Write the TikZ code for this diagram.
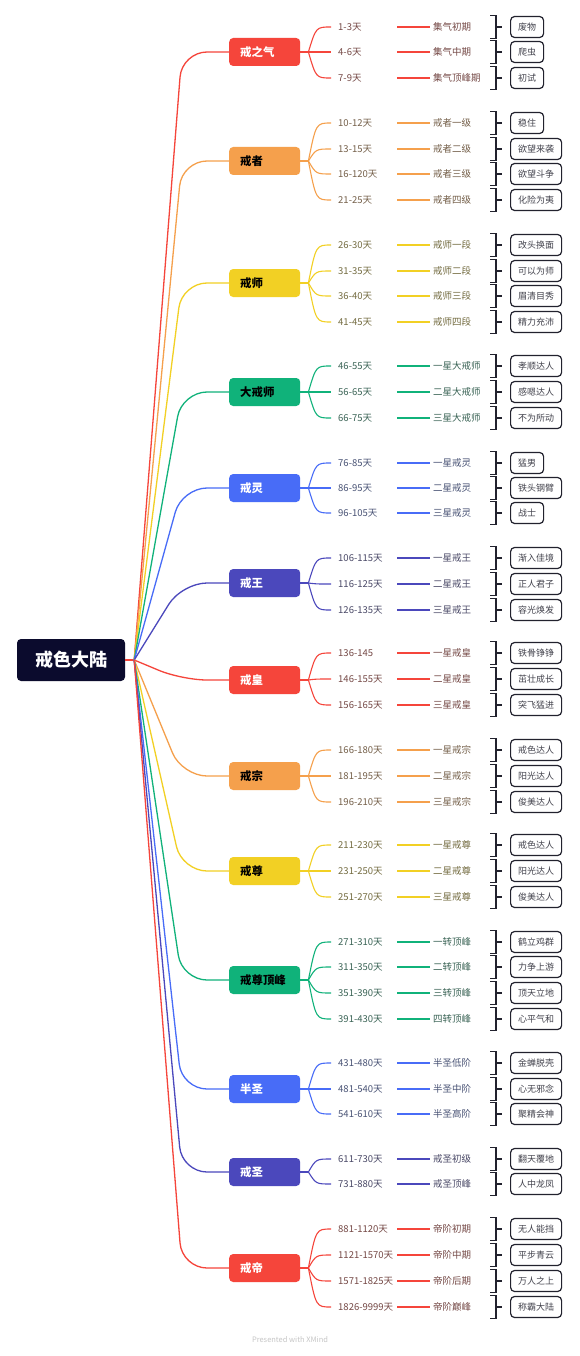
\documentclass[tikz,border=0pt]{standalone}
\usepackage{fontspec}
\setmainfont{Noto Sans CJK SC}
\usepackage{xcolor}
\usepackage{tikz}
\exhyphenpenalty=10000
\definecolor{navy}{HTML}{0B0B2D}
\definecolor{xred}{HTML}{F5453B}
\definecolor{xorange}{HTML}{F5A04C}
\definecolor{xyellow}{HTML}{F2D024}
\definecolor{xgreen}{HTML}{10B27A}
\definecolor{xblue}{HTML}{486CF7}
\definecolor{xindigo}{HTML}{4B48BC}
\definecolor{txtgray}{HTML}{4A4A4A}
\definecolor{ink}{HTML}{22222E}
\tikzset{
  rootbox/.style={fill=navy,text=white,rounded corners=4pt,minimum width=108pt,minimum height=42pt,font=\fontsize{18}{18}\selectfont\bfseries},
  realm/.style={fill=#1,anchor=west,rounded corners=4pt,minimum height=28pt,text width=49pt,inner xsep=11pt,inner ysep=0pt,align=left,text=black,font=\fontsize{11.4}{12}\selectfont\bfseries},
  days/.style={anchor=west,text width=52pt,inner xsep=7pt,inner ysep=1pt,align=left,text=#1!25!txtgray,font=\fontsize{9.5}{11}\selectfont},
  tier/.style={anchor=west,inner xsep=3pt,inner ysep=1pt,text=#1!25!txtgray,font=\fontsize{9.5}{11}\selectfont},
  gift/.style={draw=ink,line width=1.2pt,rounded corners=4pt,anchor=west,minimum height=21pt,inner xsep=7.5pt,inner ysep=0pt,text=ink!85,font=\fontsize{9}{10}\selectfont},
  bough/.style={draw=#1,line width=1.3pt,rounded corners=25pt},
  twig/.style={draw=#1,line width=1.1pt},
  brk/.style={draw=ink,line width=1.1pt},
}
\begin{document}
\begin{tikzpicture}[x=1pt,y=-1pt]
  \fill[white] (0,0) rectangle (580,1356);
  % root
  \node[rootbox] (root) at (71,660) {戒色大陆};
  \coordinate (rj) at ([xshift=9pt]root.east);
  \draw[twig=xred,line width=1.3pt] (root.east) -- (rj);

  % first level: the realms
  \node[realm=xred,text=white] (qi) at (229,52) {戒之气};
  \node[realm=xorange] (zhe) at (229,161) {戒者};
  \node[realm=xyellow] (shi) at (229,283) {戒师};
  \node[realm=xgreen] (dashi) at (229,392) {大戒师};
  \node[realm=xblue,text=white] (ling) at (229,488) {戒灵};
  \node[realm=xindigo,text=white] (wang) at (229,583) {戒王};
  \node[realm=xred,text=white] (huang) at (229,680) {戒皇};
  \node[realm=xorange] (zong) at (229,776) {戒宗};
  \node[realm=xyellow] (zun) at (229,871) {戒尊};
  \node[realm=xgreen] (peak) at (229,980) {戒尊顶峰};
  \node[realm=xblue,text=white] (ban) at (229,1089) {半圣};
  \node[realm=xindigo,text=white] (sheng) at (229,1172) {戒圣};
  \node[realm=xred,text=white] (di) at (229,1268) {戒帝};

  \draw[bough=xred] (rj) -- ([xshift=-47pt]qi.west) -- (qi.west);
  \draw[bough=xorange] (rj) -- ([xshift=-47pt]zhe.west) -- (zhe.west);
  \draw[bough=xyellow] (rj) -- ([xshift=-47pt]shi.west) -- (shi.west);
  \draw[bough=xgreen] (rj) -- ([xshift=-47pt]dashi.west) -- (dashi.west);
  \draw[bough=xblue] (rj) -- ([xshift=-47pt]ling.west) -- (ling.west);
  \draw[bough=xindigo] (rj) -- ([xshift=-47pt]wang.west) -- (wang.west);
  \draw[bough=xred] (rj) -- ([xshift=-47pt]huang.west) -- (huang.west);
  \draw[bough=xorange] (rj) -- ([xshift=-47pt]zong.west) -- (zong.west);
  \draw[bough=xyellow] (rj) -- ([xshift=-47pt]zun.west) -- (zun.west);
  \draw[bough=xgreen] (rj) -- ([xshift=-47pt]peak.west) -- (peak.west);
  \draw[bough=xblue] (rj) -- ([xshift=-47pt]ban.west) -- (ban.west);
  \draw[bough=xindigo] (rj) -- ([xshift=-47pt]sheng.west) -- (sheng.west);
  \draw[bough=xred] (rj) -- ([xshift=-47pt]di.west) -- (di.west);

  % second to fourth level, one loop per realm
  \foreach \rr/\cc in {qi/xred,zhe/xorange,shi/xyellow,dashi/xgreen,ling/xblue,wang/xindigo,huang/xred,zong/xorange,zun/xyellow,peak/xgreen,ban/xblue,sheng/xindigo,di/xred}{
    \coordinate (\rr-j) at ([xshift=8pt]\rr.east);
    \draw[twig=\cc,line width=1.3pt] (\rr.east) -- (\rr-j);
  }

  \foreach \yy/\span/\rank/\gift [count=\k] in {27/1-3天/集气初期/废物,52/4-6天/集气中期/爬虫,78/7-9天/集气顶峰期/初试}{
    \node[days=xred] (qi-d\k) at (331,\yy) {\span};
    \node[tier=xred] (qi-t\k) at (430,\yy) {\rank};
    \node[gift] (qi-g\k) at (510,\yy) {\gift};
    \draw[twig=xred] (qi-j) .. controls ([xshift=-15pt]qi-d\k.west) .. (qi-d\k.west);
    \draw[twig=xred] (qi-d\k.east) -- (qi-t\k.west);
    \draw[brk] ([xshift=-20pt]qi-g\k.north west) -| ([xshift=-14pt]qi-g\k.south west) -- ++(-6pt,0);
    \draw[brk] ([xshift=-14pt]qi-g\k.west) -- ([xshift=-8pt]qi-g\k.west);
  }
  \foreach \yy/\span/\rank/\gift [count=\k] in {123/10-12天/戒者一级/稳住,149/13-15天/戒者二级/欲望来袭,174/16-120天/戒者三级/欲望斗争,200/21-25天/戒者四级/化险为夷}{
    \node[days=xorange] (zhe-d\k) at (331,\yy) {\span};
    \node[tier=xorange] (zhe-t\k) at (430,\yy) {\rank};
    \node[gift] (zhe-g\k) at (510,\yy) {\gift};
    \draw[twig=xorange] (zhe-j) .. controls ([xshift=-15pt]zhe-d\k.west) .. (zhe-d\k.west);
    \draw[twig=xorange] (zhe-d\k.east) -- (zhe-t\k.west);
    \draw[brk] ([xshift=-20pt]zhe-g\k.north west) -| ([xshift=-14pt]zhe-g\k.south west) -- ++(-6pt,0);
    \draw[brk] ([xshift=-14pt]zhe-g\k.west) -- ([xshift=-8pt]zhe-g\k.west);
  }
  \foreach \yy/\span/\rank/\gift [count=\k] in {245/26-30天/戒师一段/改头换面,271/31-35天/戒师二段/可以为师,296/36-40天/戒师三段/眉清目秀,322/41-45天/戒师四段/精力充沛}{
    \node[days=xyellow] (shi-d\k) at (331,\yy) {\span};
    \node[tier=xyellow] (shi-t\k) at (430,\yy) {\rank};
    \node[gift] (shi-g\k) at (510,\yy) {\gift};
    \draw[twig=xyellow] (shi-j) .. controls ([xshift=-15pt]shi-d\k.west) .. (shi-d\k.west);
    \draw[twig=xyellow] (shi-d\k.east) -- (shi-t\k.west);
    \draw[brk] ([xshift=-20pt]shi-g\k.north west) -| ([xshift=-14pt]shi-g\k.south west) -- ++(-6pt,0);
    \draw[brk] ([xshift=-14pt]shi-g\k.west) -- ([xshift=-8pt]shi-g\k.west);
  }
  \foreach \yy/\span/\rank/\gift [count=\k] in {366/46-55天/一星大戒师/孝顺达人,392/56-65天/二星大戒师/感嗯达人,418/66-75天/三星大戒师/不为所动}{
    \node[days=xgreen] (dashi-d\k) at (331,\yy) {\span};
    \node[tier=xgreen] (dashi-t\k) at (430,\yy) {\rank};
    \node[gift] (dashi-g\k) at (510,\yy) {\gift};
    \draw[twig=xgreen] (dashi-j) .. controls ([xshift=-15pt]dashi-d\k.west) .. (dashi-d\k.west);
    \draw[twig=xgreen] (dashi-d\k.east) -- (dashi-t\k.west);
    \draw[brk] ([xshift=-20pt]dashi-g\k.north west) -| ([xshift=-14pt]dashi-g\k.south west) -- ++(-6pt,0);
    \draw[brk] ([xshift=-14pt]dashi-g\k.west) -- ([xshift=-8pt]dashi-g\k.west);
  }
  \foreach \yy/\span/\rank/\gift [count=\k] in {463/76-85天/一星戒灵/猛男,488/86-95天/二星戒灵/铁头钢臂,513/96-105天/三星戒灵/战士}{
    \node[days=xblue] (ling-d\k) at (331,\yy) {\span};
    \node[tier=xblue] (ling-t\k) at (430,\yy) {\rank};
    \node[gift] (ling-g\k) at (510,\yy) {\gift};
    \draw[twig=xblue] (ling-j) .. controls ([xshift=-15pt]ling-d\k.west) .. (ling-d\k.west);
    \draw[twig=xblue] (ling-d\k.east) -- (ling-t\k.west);
    \draw[brk] ([xshift=-20pt]ling-g\k.north west) -| ([xshift=-14pt]ling-g\k.south west) -- ++(-6pt,0);
    \draw[brk] ([xshift=-14pt]ling-g\k.west) -- ([xshift=-8pt]ling-g\k.west);
  }
  \foreach \yy/\span/\rank/\gift [count=\k] in {558/106-115天/一星戒王/渐入佳境,584/116-125天/二星戒王/正人君子,610/126-135天/三星戒王/容光焕发}{
    \node[days=xindigo] (wang-d\k) at (331,\yy) {\span};
    \node[tier=xindigo] (wang-t\k) at (430,\yy) {\rank};
    \node[gift] (wang-g\k) at (510,\yy) {\gift};
    \draw[twig=xindigo] (wang-j) .. controls ([xshift=-15pt]wang-d\k.west) .. (wang-d\k.west);
    \draw[twig=xindigo] (wang-d\k.east) -- (wang-t\k.west);
    \draw[brk] ([xshift=-20pt]wang-g\k.north west) -| ([xshift=-14pt]wang-g\k.south west) -- ++(-6pt,0);
    \draw[brk] ([xshift=-14pt]wang-g\k.west) -- ([xshift=-8pt]wang-g\k.west);
  }
  \foreach \yy/\span/\rank/\gift [count=\k] in {653/136-145/一星戒皇/铁骨铮铮,679/146-155天/二星戒皇/茁壮成长,705/156-165天/三星戒皇/突飞猛进}{
    \node[days=xred] (huang-d\k) at (331,\yy) {\span};
    \node[tier=xred] (huang-t\k) at (430,\yy) {\rank};
    \node[gift] (huang-g\k) at (510,\yy) {\gift};
    \draw[twig=xred] (huang-j) .. controls ([xshift=-15pt]huang-d\k.west) .. (huang-d\k.west);
    \draw[twig=xred] (huang-d\k.east) -- (huang-t\k.west);
    \draw[brk] ([xshift=-20pt]huang-g\k.north west) -| ([xshift=-14pt]huang-g\k.south west) -- ++(-6pt,0);
    \draw[brk] ([xshift=-14pt]huang-g\k.west) -- ([xshift=-8pt]huang-g\k.west);
  }
  \foreach \yy/\span/\rank/\gift [count=\k] in {750/166-180天/一星戒宗/戒色达人,776/181-195天/二星戒宗/阳光达人,802/196-210天/三星戒宗/俊美达人}{
    \node[days=xorange] (zong-d\k) at (331,\yy) {\span};
    \node[tier=xorange] (zong-t\k) at (430,\yy) {\rank};
    \node[gift] (zong-g\k) at (510,\yy) {\gift};
    \draw[twig=xorange] (zong-j) .. controls ([xshift=-15pt]zong-d\k.west) .. (zong-d\k.west);
    \draw[twig=xorange] (zong-d\k.east) -- (zong-t\k.west);
    \draw[brk] ([xshift=-20pt]zong-g\k.north west) -| ([xshift=-14pt]zong-g\k.south west) -- ++(-6pt,0);
    \draw[brk] ([xshift=-14pt]zong-g\k.west) -- ([xshift=-8pt]zong-g\k.west);
  }
  \foreach \yy/\span/\rank/\gift [count=\k] in {845/211-230天/一星戒尊/戒色达人,871/231-250天/二星戒尊/阳光达人,897/251-270天/三星戒尊/俊美达人}{
    \node[days=xyellow] (zun-d\k) at (331,\yy) {\span};
    \node[tier=xyellow] (zun-t\k) at (430,\yy) {\rank};
    \node[gift] (zun-g\k) at (510,\yy) {\gift};
    \draw[twig=xyellow] (zun-j) .. controls ([xshift=-15pt]zun-d\k.west) .. (zun-d\k.west);
    \draw[twig=xyellow] (zun-d\k.east) -- (zun-t\k.west);
    \draw[brk] ([xshift=-20pt]zun-g\k.north west) -| ([xshift=-14pt]zun-g\k.south west) -- ++(-6pt,0);
    \draw[brk] ([xshift=-14pt]zun-g\k.west) -- ([xshift=-8pt]zun-g\k.west);
  }
  \foreach \yy/\span/\rank/\gift [count=\k] in {942/271-310天/一转顶峰/鹤立鸡群,967/311-350天/二转顶峰/力争上游,993/351-390天/三转顶峰/顶天立地,1019/391-430天/四转顶峰/心平气和}{
    \node[days=xgreen] (peak-d\k) at (331,\yy) {\span};
    \node[tier=xgreen] (peak-t\k) at (430,\yy) {\rank};
    \node[gift] (peak-g\k) at (510,\yy) {\gift};
    \draw[twig=xgreen] (peak-j) .. controls ([xshift=-15pt]peak-d\k.west) .. (peak-d\k.west);
    \draw[twig=xgreen] (peak-d\k.east) -- (peak-t\k.west);
    \draw[brk] ([xshift=-20pt]peak-g\k.north west) -| ([xshift=-14pt]peak-g\k.south west) -- ++(-6pt,0);
    \draw[brk] ([xshift=-14pt]peak-g\k.west) -- ([xshift=-8pt]peak-g\k.west);
  }
  \foreach \yy/\span/\rank/\gift [count=\k] in {1063/431-480天/半圣低阶/金蝉脱壳,1089/481-540天/半圣中阶/心无邪念,1114/541-610天/半圣高阶/聚精会神}{
    \node[days=xblue] (ban-d\k) at (331,\yy) {\span};
    \node[tier=xblue] (ban-t\k) at (430,\yy) {\rank};
    \node[gift] (ban-g\k) at (510,\yy) {\gift};
    \draw[twig=xblue] (ban-j) .. controls ([xshift=-15pt]ban-d\k.west) .. (ban-d\k.west);
    \draw[twig=xblue] (ban-d\k.east) -- (ban-t\k.west);
    \draw[brk] ([xshift=-20pt]ban-g\k.north west) -| ([xshift=-14pt]ban-g\k.south west) -- ++(-6pt,0);
    \draw[brk] ([xshift=-14pt]ban-g\k.west) -- ([xshift=-8pt]ban-g\k.west);
  }
  \foreach \yy/\span/\rank/\gift [count=\k] in {1159/611-730天/戒圣初级/翻天覆地,1184/731-880天/戒圣顶峰/人中龙凤}{
    \node[days=xindigo] (sheng-d\k) at (331,\yy) {\span};
    \node[tier=xindigo] (sheng-t\k) at (430,\yy) {\rank};
    \node[gift] (sheng-g\k) at (510,\yy) {\gift};
    \draw[twig=xindigo] (sheng-j) .. controls ([xshift=-15pt]sheng-d\k.west) .. (sheng-d\k.west);
    \draw[twig=xindigo] (sheng-d\k.east) -- (sheng-t\k.west);
    \draw[brk] ([xshift=-20pt]sheng-g\k.north west) -| ([xshift=-14pt]sheng-g\k.south west) -- ++(-6pt,0);
    \draw[brk] ([xshift=-14pt]sheng-g\k.west) -- ([xshift=-8pt]sheng-g\k.west);
  }
  \foreach \yy/\span/\rank/\gift [count=\k] in {1229/881-1120天/帝阶初期/无人能挡,1255/1121-1570天/帝阶中期/平步青云,1281/1571-1825天/帝阶后期/万人之上,1307/1826-9999天/帝阶巅峰/称霸大陆}{
    \node[days=xred] (di-d\k) at (331,\yy) {\span};
    \node[tier=xred] (di-t\k) at (430,\yy) {\rank};
    \node[gift] (di-g\k) at (510,\yy) {\gift};
    \draw[twig=xred] (di-j) .. controls ([xshift=-15pt]di-d\k.west) .. (di-d\k.west);
    \draw[twig=xred] (di-d\k.east) -- (di-t\k.west);
    \draw[brk] ([xshift=-20pt]di-g\k.north west) -| ([xshift=-14pt]di-g\k.south west) -- ++(-6pt,0);
    \draw[brk] ([xshift=-14pt]di-g\k.west) -- ([xshift=-8pt]di-g\k.west);
  }

  \node[text=gray!45,font=\fontsize{7.5}{8}\selectfont] (credit) at (290,1340) {Presented with XMind};
\end{tikzpicture}
\end{document}
